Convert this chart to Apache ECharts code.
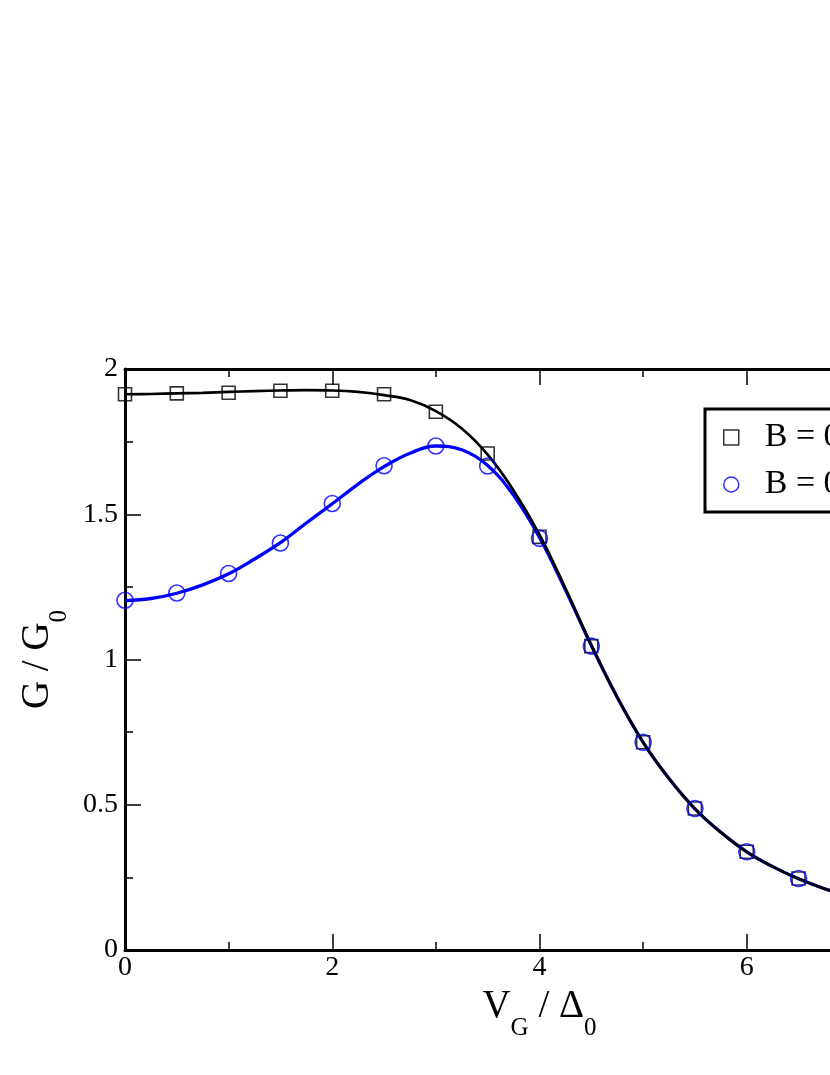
<!DOCTYPE html>
<html>
<head>
<meta charset="utf-8">
<script src="https://cdn.jsdelivr.net/npm/echarts@6/dist/echarts.min.js"></script>
<style>
  html, body { margin: 0; padding: 0; background: #fff; }
  #chart { width: 830px; height: 1075px; }
</style>
</head>
<body>
<div id="chart"></div>
<script>
// data
var markX = [0, 0.5, 1, 1.5, 2, 2.5, 3, 3.5, 4, 4.5, 5, 5.5, 6, 6.5];
var squares = [1.913, 1.916, 1.918, 1.925, 1.925, 1.913, 1.853, 1.709, 1.422, 1.046, 0.715, 0.487, 0.338, 0.246];
var circles = [1.204, 1.229, 1.296, 1.401, 1.537, 1.667, 1.735, 1.666, 1.417, 1.046, 0.715, 0.487, 0.338, 0.246];

var curveX = [0, 0.25, 0.5, 0.75, 1, 1.25, 1.5, 1.75, 2, 2.25, 2.5, 2.75, 3, 3.25, 3.5, 3.75,
              4, 4.25, 4.5, 4.75, 5, 5.25, 5.5, 5.75, 6, 6.25, 6.5, 6.75, 7, 7.25, 7.5, 7.75, 8];
var blackCurve = [1.913, 1.914, 1.916, 1.918, 1.921, 1.924, 1.926, 1.927, 1.926, 1.921, 1.91, 1.893,
                  1.855, 1.795, 1.705, 1.582, 1.43, 1.245, 1.05, 0.87, 0.715, 0.59, 0.486, 0.405,
                  0.338, 0.287, 0.245, 0.211, 0.184, 0.161, 0.142, 0.126, 0.112];
var blueCurve = [1.203, 1.21, 1.228, 1.257, 1.295, 1.346, 1.402, 1.47, 1.536, 1.604, 1.664, 1.71,
                 1.735, 1.722, 1.668, 1.565, 1.42, 1.24, 1.048, 0.87, 0.715, 0.59, 0.486, 0.405,
                 0.338, 0.287, 0.245, 0.211, 0.184, 0.161, 0.142, 0.126, 0.112];

var legendNames = ['B = 0', 'B = 0.5'];
var yTicks = [0, 0.5, 1, 1.5, 2];

function pairs(xs, ys) {
    return xs.map(function (x, i) { return [x, ys[i]]; });
}

var font = "'Liberation Serif', 'Times New Roman', serif";
var nameRich = {
    n: { fontSize: 39, lineHeight: 42, fontFamily: font, color: '#000', verticalAlign: 'top' },
    s: { fontSize: 25, lineHeight: 26, fontFamily: font, color: '#000', verticalAlign: 'top', padding: [29, 0, 0, 0] }
};

function axisBase(pos, showLabel) {
    return {
        type: 'value',
        position: pos,
        axisLine: { show: true, onZero: false, lineStyle: { color: '#000', width: 3 } },
        axisTick: { show: true, inside: true, length: 16, lineStyle: { color: '#000', width: 1.5 } },
        minorTick: { show: true, splitNumber: 2, length: 8, lineStyle: { color: '#000', width: 1.5 } },
        splitLine: { show: false },
        axisLabel: { show: showLabel, fontSize: 28, fontFamily: font, color: '#000' }
    };
}

var xBottom = axisBase('bottom', true);
xBottom.min = 0; xBottom.max = 8; xBottom.interval = 2;
xBottom.axisLabel.margin = 4;
xBottom.name = '{n|V}{s|G}{n| / Δ}{s|0}';
xBottom.nameLocation = 'middle';
xBottom.nameGap = 31;
xBottom.nameTextStyle = { rich: nameRich };

var xTop = axisBase('top', false);
xTop.min = 0; xTop.max = 8; xTop.interval = 2;

var yLeft = axisBase('left', true);
yLeft.min = 0; yLeft.max = 2; yLeft.interval = 0.5;
yLeft.axisLabel.margin = 7;
yLeft.axisLabel.formatter = function (v) {
    return yTicks.indexOf(v) >= 0 ? String(v) : '';
};
yLeft.name = '{n|G / G}{s|0}';
yLeft.nameLocation = 'middle';
yLeft.nameGap = 52;
yLeft.nameTextStyle = { rich: nameRich };

var yRight = axisBase('right', false);
yRight.min = 0; yRight.max = 2; yRight.interval = 0.5;

var option = {
    backgroundColor: '#fff',
    animation: false,
    grid: { left: 125, top: 369, width: 829, height: 581, containLabel: false, outerBoundsMode: 'none' },
    xAxis: [xBottom, xTop],
    yAxis: [yLeft, yRight],
    legend: {
        left: 705,
        top: 409,
        orient: 'vertical',
        data: legendNames,
        padding: [6, 40, 5, 18],
        itemGap: 2,
        itemWidth: 15,
        itemHeight: 15,
        borderColor: '#000',
        borderWidth: 3,
        itemStyle: { borderWidth: 1.5 },
        textStyle: { fontSize: 34, fontFamily: font, color: '#000', lineHeight: 24, padding: [0, 0, 21, 21] }
    },
    series: [
        {
            name: 'blueCurve',
            type: 'line',
            data: pairs(curveX, blueCurve),
            showSymbol: false,
            smooth: 0.4,
            lineStyle: { color: '#0000ff', width: 3.3 },
            z: 2
        },
        {
            name: 'blackCurve',
            type: 'line',
            data: pairs(curveX, blackCurve),
            showSymbol: false,
            smooth: 0.4,
            lineStyle: { color: '#000', width: 2.7 },
            z: 3
        },
        {
            name: legendNames[0],
            type: 'scatter',
            data: pairs(markX, squares),
            symbol: 'rect',
            symbolSize: 13,
            itemStyle: { color: 'transparent', borderColor: '#000', borderWidth: 1.6 },
            z: 4
        },
        {
            name: legendNames[1],
            type: 'scatter',
            data: pairs(markX, circles),
            symbol: 'circle',
            symbolSize: 16,
            itemStyle: { color: 'transparent', borderColor: '#0000ff', borderWidth: 1.6 },
            z: 5
        }
    ]
};

var myChart = echarts.init(document.getElementById('chart'));
myChart.setOption(option);
</script>
</body>
</html>
